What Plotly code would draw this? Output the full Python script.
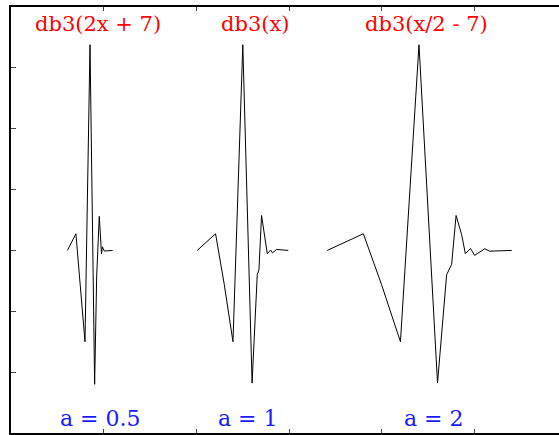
import plotly.graph_objects as go

# db3 wavelet at three scales, vertices
x_a05 = [3.04, 3.5, 3.99, 4.26, 4.51, 4.62, 4.76, 4.88, 4.93, 5.03, 5.48]
y_a05 = [0.0, 0.137, -0.75, 1.69, -1.10, -0.21, 0.28, -0.03, 0.03, -0.005, 0.0]

x_a1 = [10.04, 11.03, 11.5, 11.97, 12.5, 13.0, 13.28, 13.37, 13.51, 13.75, 13.82, 14.0, 14.1, 14.32, 14.95]
y_a1 = [0.0, 0.137, -0.28, -0.75, 1.69, -1.09, -0.197, -0.16, 0.287, 0.01, -0.027, 0.003, -0.02, 0.008, 0.0]

x_a2 = [17.05, 19.0, 19.98, 21.0, 22.0, 23.0, 23.49, 23.76, 24.0, 24.3, 24.5, 24.78, 25.0, 25.55, 25.8, 27.0]
y_a2 = [0.0, 0.137, -0.28, -0.75, 1.69, -1.09, -0.2, -0.115, 0.287, 0.13, -0.027, 0.016, -0.04, 0.014, -0.006, 0.0]

titles = ["db3(2x + 7)", "db3(x)", "db3(x/2 - 7)"]
title_x = [4.69, 13.15, 22.43]
labels = ["a = 0.5", "a = 1", "a = 2"]
label_x = [4.8, 12.78, 22.8]

fig = go.Figure()
for xs, ys in [(x_a05, y_a05), (x_a1, y_a1), (x_a2, y_a2)]:
    fig.add_trace(go.Scatter(x=xs, y=ys, mode='lines',
                             line=dict(color='black', width=1), showlegend=False))

for t, tx in zip(titles, title_x):
    fig.add_annotation(x=tx, y=1.86, text=t, showarrow=False,
                       font=dict(family='DejaVu Serif', size=21, color='#ff0000'))
for t, tx in zip(labels, label_x):
    fig.add_annotation(x=tx, y=-1.377, text=t, showarrow=False,
                       font=dict(family='DejaVu Serif', size=22, color='#1a1aff'))

fig.update_xaxes(range=[0, 29.55], tick0=0, dtick=5, ticks='inside', ticklen=4,
                 tickcolor='#444', showticklabels=False, showgrid=False, zeroline=False,
                 showline=True, linecolor='black', linewidth=1.5, mirror='allticks')
fig.update_yaxes(range=[-1.5, 2.0], tick0=0, dtick=0.5, ticks='inside', ticklen=5,
                 tickcolor='#444', showticklabels=False, showgrid=False, zeroline=False,
                 showline=True, linecolor='black', linewidth=1.5, mirror=False)

fig.update_layout(width=559, height=435, margin=dict(l=11, r=0, t=7, b=2),
                  plot_bgcolor='white', paper_bgcolor='white')

# drop the browser's default body margin so the figure sits at the page corner
fig.write_html("out.html", config={'displayModeBar': False},
               post_script="document.body.style.margin='0px';")
